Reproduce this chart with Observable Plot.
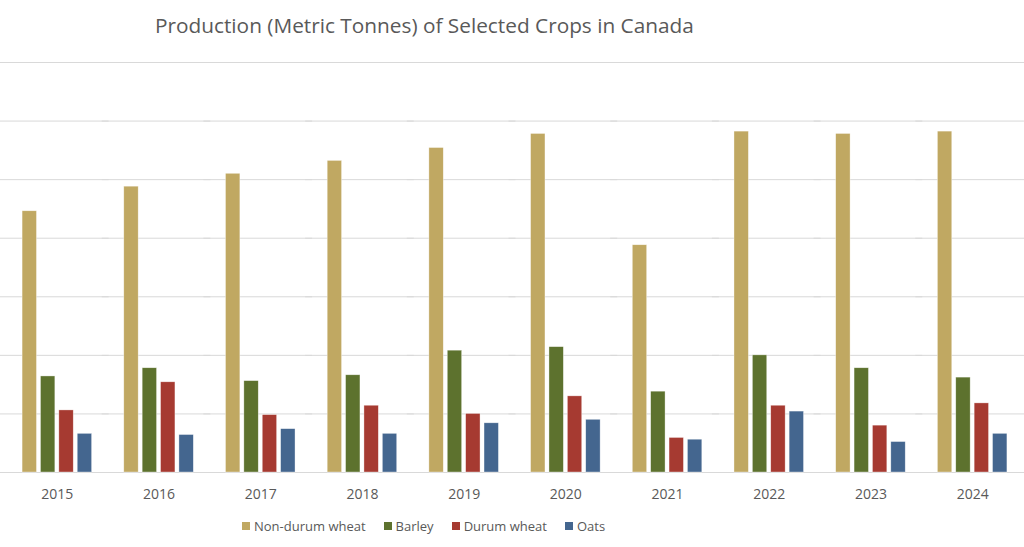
<!DOCTYPE html>
<html>
<head>
<meta charset="utf-8">
<script src="https://cdn.jsdelivr.net/npm/d3@7"></script>
<script src="https://cdn.jsdelivr.net/npm/@observablehq/plot@0.6"></script>
<style>
  html, body { margin: 0; padding: 0; background: #fff; }
  #wrap { position: relative; width: 1024px; height: 547px; overflow: hidden; font-family: "Open Sans", "Liberation Sans", sans-serif; }
  #title { position: absolute; left: 155px; top: 13px; font-size: 20.8px; color: #595959; white-space: nowrap; line-height: 1.2; }
  #chart { position: absolute; left: 0; top: 45px; }
  #legend { position: absolute; left: 242px; top: 516px; height: 20px; display: flex; align-items: center; font-size: 13px; color: #595959; white-space: nowrap; }
  .item { display: flex; align-items: center; height: 20px; margin-right: 18px; }
  .sw { width: 8px; height: 8px; margin-right: 4px; }
</style>
</head>
<body>
<div id="wrap">
  <div id="title">Production (Metric Tonnes) of Selected Crops in Canada</div>
  <div id="chart"></div>
  <div id="legend"></div>
</div>
<script>
// Years (categories)
const years = ["2015","2016","2017","2018","2019","2020","2021","2022","2023","2024"];
// Series (crops) and their colours
const crops = ["Non-durum wheat","Barley","Durum wheat","Oats"];
const cropColors = ["#C0A862","#5D722E","#A63A31","#44668F"];
// Production in millions of metric tonnes
const nonDurumWheat = [22.3, 24.4, 25.5, 26.6, 27.7, 28.9, 19.4, 29.1, 28.9, 29.1];
const barley        = [8.2, 8.9, 7.8, 8.3, 10.4, 10.7, 6.9, 10.0, 8.9, 8.1];
const durumWheat    = [5.3, 7.7, 4.9, 5.7, 5.0, 6.5, 2.95, 5.7, 4.0, 5.9];
const oats          = [3.3, 3.2, 3.7, 3.3, 4.2, 4.5, 2.8, 5.2, 2.6, 3.3];
// Gridline values (millions of tonnes)
const gridTicks = [0, 5, 10, 15, 20, 25, 30, 35];

const series = [nonDurumWheat, barley, durumWheat, oats];
const data = [];
years.forEach((yr, i) => {
  crops.forEach((c, j) => {
    data.push({year: yr, crop: c, value: series[j][i]});
  });
});

const chart = Plot.plot({
  width: 1024,
  height: 467,
  marginTop: 17,
  marginBottom: 40,
  marginLeft: 6,
  marginRight: 1,
  style: {fontFamily: "'Open Sans', 'Liberation Sans', sans-serif", background: "#fff"},
  fx: {domain: years, padding: 0, round: false, label: null, axis: null},
  x: {domain: crops, paddingInner: 0.217, paddingOuter: 0.875, round: false, axis: null},
  y: {domain: [0, 35], axis: null},
  color: {domain: crops, range: cropColors},
  marks: [
    Plot.ruleY(gridTicks, {stroke: "#d9d9d9", strokeWidth: 1, insetLeft: -6, insetRight: -1}),
    Plot.barY(data, {fx: "year", x: "crop", y: "value", fill: "crop", stroke: "#ffffff", strokeOpacity: 0.6, strokeWidth: 0.6}),
    Plot.axisFx({anchor: "bottom", tickSize: 0, tickPadding: 17, fontSize: 14, fill: "#595959", label: null})
  ]
});
document.getElementById("chart").appendChild(chart);

const legend = document.getElementById("legend");
crops.forEach((c, j) => {
  const it = document.createElement("div");
  it.className = "item";
  const sw = document.createElement("div");
  sw.className = "sw";
  sw.style.background = cropColors[j];
  const t = document.createElement("span");
  t.textContent = c;
  it.appendChild(sw); it.appendChild(t);
  legend.appendChild(it);
});
</script>
</body>
</html>
